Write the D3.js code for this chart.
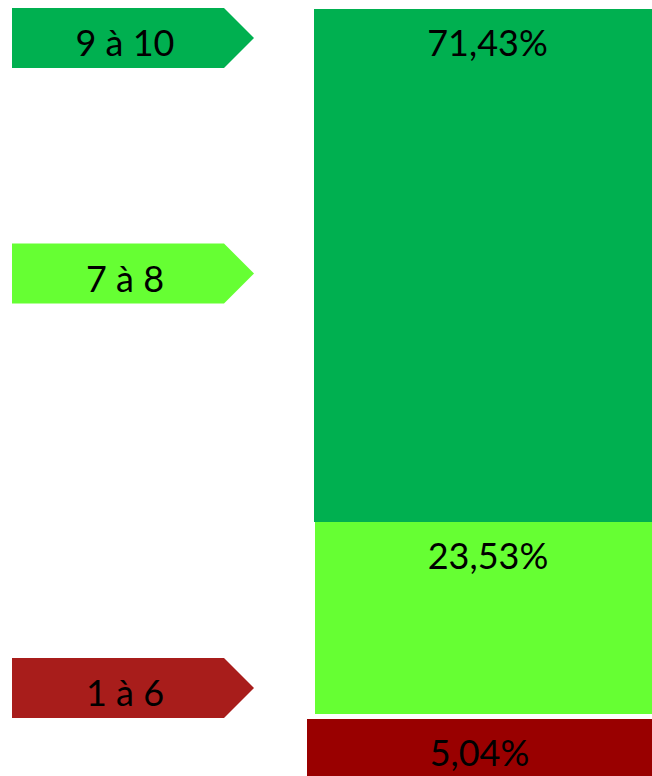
<!DOCTYPE html>
<html>
<head>
<meta charset="utf-8">
<script src="https://cdn.jsdelivr.net/npm/d3@7"></script>
<style>
  html, body { margin: 0; padding: 0; background: #fff; overflow: hidden; }
</style>
</head>
<body>
<div id="chart"></div>
<script>
// Data: categories (bottom to top) and their shares in %
const categories = ["1 à 6", "7 à 8", "9 à 10"];
const shares = [5.04, 23.53, 71.43];

// Layout
const width = 652;
const height = 776;
const font = "Lato, 'Open Sans', sans-serif";
const fontSize = 36;

// Colors per category
const barColors = ["#990000", "#66FF33", "#00B050"];
const arrowColors = ["#A81D1B", "#66FF33", "#00B050"];

// Segment x extents (the bottom one is a separate, slightly wider block)
const segX = [[307, 652], [315, 670], [314, 670]];
const segGap = [5, 0, 0];

// Legend arrow vertical centers
const arrowCenter = [688, 273.5, 38];

// Cumulative bounds of the stack
const bounds = [0, ...d3.cumsum(shares)];

// Vertical scale (stack drawn as in the original, not strictly proportional)
const y = d3.scaleLinear()
  .domain(bounds)
  .range([800, 714, 522, 9]);

const fmt = v => v.toFixed(2).replace(".", ",") + "%";

const svg = d3.select("#chart").append("svg")
  .attr("width", width)
  .attr("height", height)
  .attr("viewBox", [0, 0, width, height]);

const segs = categories.map((c, i) => ({
  cat: c,
  value: shares[i],
  y0: bounds[i],
  y1: bounds[i + 1],
  i
}));

// Stacked segments
svg.append("g")
  .selectAll("rect")
  .data(segs)
  .join("rect")
  .attr("x", d => segX[d.i][0])
  .attr("width", d => segX[d.i][1] - segX[d.i][0])
  .attr("y", d => y(d.y1) + segGap[d.i])
  .attr("height", d => y(d.y0) - y(d.y1) - segGap[d.i])
  .attr("fill", d => barColors[d.i]);

// Value labels near top of each segment
svg.append("g")
  .selectAll("text")
  .data(segs)
  .join("text")
  .attr("x", d => (segX[d.i][0] + Math.min(segX[d.i][1], 661)) / 2)
  .attr("y", d => y(d.y1) + segGap[d.i] + 47)
  .attr("text-anchor", "middle")
  .attr("font-family", font)
  .attr("font-size", fontSize)
  .attr("fill", "#000")
  .text(d => fmt(d.value));

// Legend arrows
const ax0 = 12, ax1 = 224, atip = 254, ah = 60;
const legend = svg.append("g")
  .selectAll("g")
  .data(segs)
  .join("g")
  .attr("transform", d => `translate(0,${arrowCenter[d.i]})`);

legend.append("path")
  .attr("d", `M${ax0},${-ah / 2}H${ax1}L${atip},0L${ax1},${ah / 2}H${ax0}Z`)
  .attr("fill", d => arrowColors[d.i]);

legend.append("text")
  .attr("x", 125)
  .attr("y", 18)
  .attr("text-anchor", "middle")
  .attr("font-family", font)
  .attr("font-size", fontSize)
  .attr("fill", "#000")
  .text(d => d.cat);
</script>
</body>
</html>
